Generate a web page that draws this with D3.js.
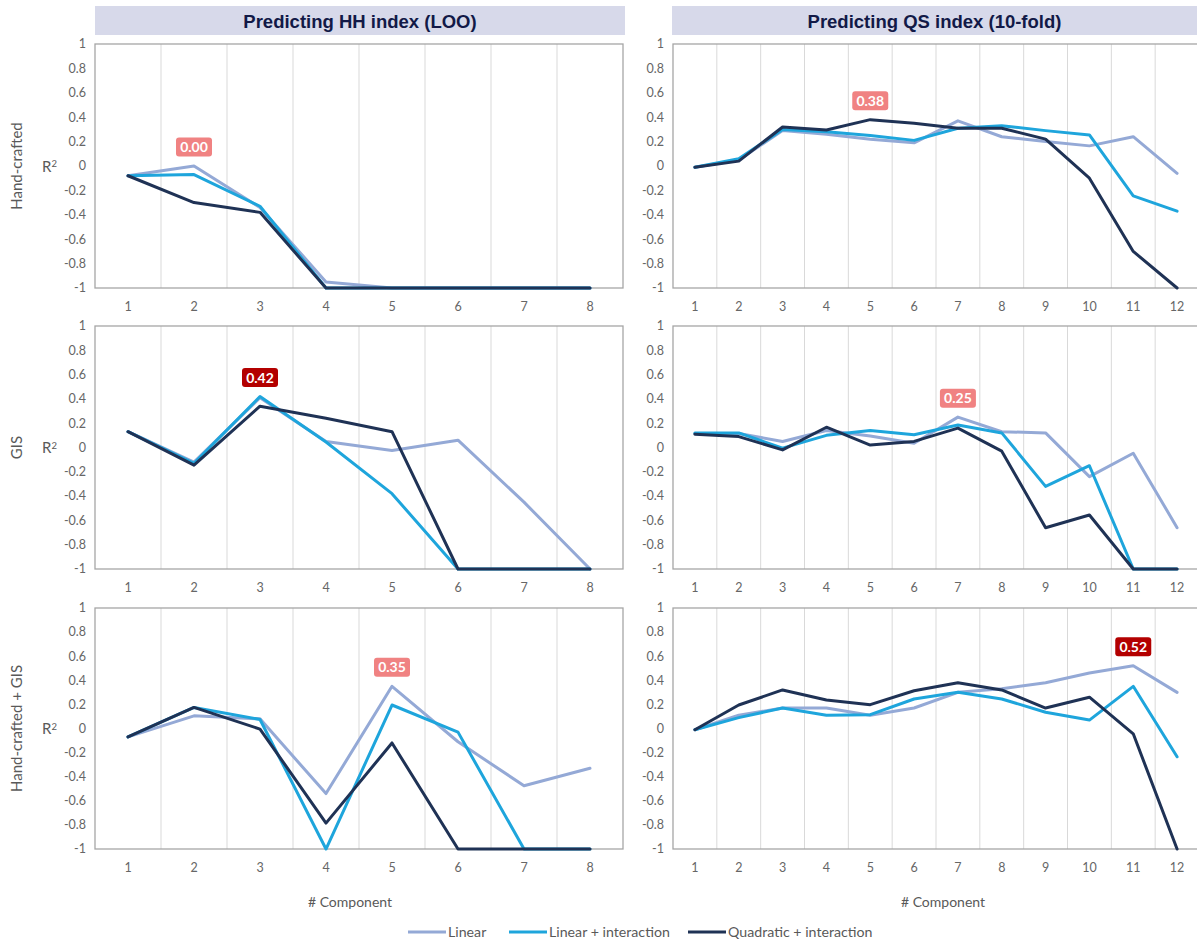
<!DOCTYPE html>
<html><head><meta charset="utf-8">
<script src="https://cdn.jsdelivr.net/npm/d3@7"></script>
<style>
body{margin:0;background:#fff;}
svg{display:block;}
</style></head>
<body>
<svg id="chart" width="1197" height="941"></svg>
<script>
// ---------- data ----------
const columnTitles = ["Predicting HH index (LOO)", "Predicting QS index (10-fold)"];
const rowTitles = ["Hand-crafted", "GIS", "Hand-crafted + GIS"];
const seriesNames = ["Linear", "Linear + interaction", "Quadratic + interaction"];
const categoriesHH = [1, 2, 3, 4, 5, 6, 7, 8];
const categoriesQS = [1, 2, 3, 4, 5, 6, 7, 8, 9, 10, 11, 12];
const yTicks = [1, 0.8, 0.6, 0.4, 0.2, 0, -0.2, -0.4, -0.6, -0.8, -1];

// HH, Hand-crafted
const hhHandLinear    = [-0.08, 0.00, -0.34, -0.95, -1, -1, -1, -1];
const hhHandLinInt    = [-0.08, -0.07, -0.33, -1, -1, -1, -1, -1];
const hhHandQuad      = [-0.08, -0.30, -0.38, -1, -1, -1, -1, -1];
// HH, GIS
const hhGisLinear     = [0.13, -0.12, 0.41, 0.05, -0.025, 0.06, -0.45, -1];
const hhGisLinInt     = [0.13, -0.13, 0.42, 0.045, -0.38, -1, -1, -1];
const hhGisQuad       = [0.13, -0.145, 0.34, 0.24, 0.13, -1, -1, -1];
// HH, Hand-crafted + GIS
const hhBothLinear    = [-0.07, 0.105, 0.08, -0.54, 0.35, -0.11, -0.475, -0.33];
const hhBothLinInt    = [-0.07, 0.175, 0.075, -1, 0.195, -0.03, -1, -1];
const hhBothQuad      = [-0.07, 0.175, -0.005, -0.785, -0.12, -1, -1, -1];
// QS, Hand-crafted
const qsHandLinear    = [-0.01, 0.05, 0.29, 0.26, 0.22, 0.19, 0.37, 0.24, 0.20, 0.165, 0.24, -0.06];
const qsHandLinInt    = [-0.01, 0.06, 0.30, 0.28, 0.25, 0.21, 0.31, 0.33, 0.29, 0.255, -0.245, -0.37];
const qsHandQuad      = [-0.01, 0.04, 0.32, 0.295, 0.38, 0.35, 0.31, 0.31, 0.22, -0.10, -0.70, -1];
// QS, GIS
const qsGisLinear     = [0.115, 0.115, 0.05, 0.14, 0.095, 0.035, 0.25, 0.13, 0.12, -0.24, -0.047, -0.66];
const qsGisLinInt     = [0.12, 0.12, -0.005, 0.10, 0.14, 0.105, 0.185, 0.12, -0.32, -0.15, -1, -1];
const qsGisQuad       = [0.11, 0.09, -0.02, 0.167, 0.02, 0.05, 0.16, -0.03, -0.66, -0.556, -1, -1];
// QS, Hand-crafted + GIS
const qsBothLinear    = [-0.01, 0.11, 0.17, 0.17, 0.11, 0.17, 0.30, 0.33, 0.38, 0.46, 0.52, 0.30];
const qsBothLinInt    = [-0.01, 0.09, 0.17, 0.11, 0.115, 0.245, 0.30, 0.245, 0.135, 0.07, 0.35, -0.235];
const qsBothQuad      = [-0.01, 0.195, 0.32, 0.236, 0.198, 0.313, 0.38, 0.32, 0.17, 0.26, -0.044, -1];

// best-value annotations: [column, row, category, label, highlight]
const annotations = [
  [0, 0, 2, "0.00", false],
  [1, 0, 5, "0.38", false],
  [0, 1, 3, "0.42", true],
  [1, 1, 7, "0.25", false],
  [0, 2, 5, "0.35", false],
  [1, 2, 11, "0.52", true]
];

// ---------- layout / style ----------
const colors = ["#94a9d6", "#1ea5dc", "#1f3255"];
const font = "Lato, 'Open Sans', sans-serif";
const gridColor = "#d9d9d9", borderColor = "#a6a6a6", textColor = "#595959";

const cols = [
  {x0: 95, x1: 623, cats: categoriesHH, hx0: 95, hx1: 625, titleX: 350},
  {x0: 673, x1: 1199, cats: categoriesQS, hx0: 672, hx1: 1197, titleX: 943}
];
const rows = [{top: 44, bottom: 288}, {top: 326, bottom: 569}, {top: 608, bottom: 849}];

const panelData = [
  [[hhHandLinear, hhHandLinInt, hhHandQuad], [hhGisLinear, hhGisLinInt, hhGisQuad], [hhBothLinear, hhBothLinInt, hhBothQuad]],
  [[qsHandLinear, qsHandLinInt, qsHandQuad], [qsGisLinear, qsGisLinInt, qsGisQuad], [qsBothLinear, qsBothLinInt, qsBothQuad]]
];

const svg = d3.select("#chart");
const fmt = v => (Math.abs(v) < 1e-9 ? "0" : String(+v.toFixed(1)));

// headers
cols.forEach((c, ci) => {
  svg.append("rect").attr("x", c.hx0).attr("y", 6).attr("width", c.hx1 - c.hx0).attr("height", 29)
    .attr("fill", "#d7d9ea");
  svg.append("text").attr("x", (c.hx0 + c.hx1) / 2).attr("y", 21).attr("dy", "0.36em")
    .attr("text-anchor", "middle").attr("font-family", "'Liberation Sans', Arial, sans-serif")
    .attr("font-weight", "bold").attr("font-size", 18.5).attr("fill", "#121947")
    .text(columnTitles[ci]);
});

const scales = [];
cols.forEach((c, ci) => {
  scales[ci] = [];
  rows.forEach((r, ri) => {
    const x = d3.scaleBand().domain(c.cats).range([c.x0, c.x1]).padding(0);
    const y = d3.scaleLinear().domain([-1, 1]).range([r.bottom, r.top]);
    scales[ci][ri] = {x, y};
    const g = svg.append("g");
    // vertical gridlines at category boundaries
    g.selectAll("line.grid").data(c.cats.slice(1)).join("line")
      .attr("x1", d => x(d)).attr("x2", d => x(d))
      .attr("y1", r.top).attr("y2", r.bottom)
      .attr("stroke", gridColor).attr("stroke-width", 1);
    // border
    g.append("rect").attr("x", c.x0).attr("y", r.top)
      .attr("width", c.x1 - c.x0).attr("height", r.bottom - r.top)
      .attr("fill", "none").attr("stroke", borderColor).attr("stroke-width", 1.3);
    // y tick labels
    g.selectAll("text.yt").data(yTicks).join("text")
      .attr("x", c.x0 - 9).attr("y", d => y(d)).attr("dy", "0.35em")
      .attr("text-anchor", "end").attr("font-family", font).attr("font-size", 12.5)
      .attr("fill", "#666").text(fmt);
    // x tick labels
    g.selectAll("text.xt").data(c.cats).join("text")
      .attr("x", d => x(d) + x.bandwidth() / 2).attr("y", r.bottom + 19).attr("dy", "0.35em")
      .attr("text-anchor", "middle").attr("font-family", font).attr("font-size", 12.5)
      .attr("fill", "#666").text(d => d);
    // lines
    const line = d3.line().x((d, i) => x(c.cats[i]) + x.bandwidth() / 2).y(d => y(d));
    panelData[ci][ri].forEach((vals, si) => {
      g.append("path").datum(vals).attr("d", line)
        .attr("fill", "none").attr("stroke", colors[si]).attr("stroke-width", 3)
        .attr("stroke-linejoin", "round").attr("stroke-linecap", "round");
    });
  });
});

// row labels
rows.forEach((r, ri) => {
  const cy = (r.top + r.bottom) / 2;
  svg.append("text").attr("transform", `translate(17,${cy}) rotate(-90)`)
    .attr("text-anchor", "middle").attr("dy", "0.35em")
    .attr("font-family", font).attr("font-size", 15).attr("fill", textColor)
    .text(rowTitles[ri]);
  const t = svg.append("text").attr("x", 42).attr("y", cy).attr("dy", "0.38em")
    .attr("font-family", font).attr("font-size", 15).attr("fill", textColor);
  t.append("tspan").text("R");
  t.append("tspan").attr("dy", "-0.45em").attr("font-size", 9.5).text("2");
});

// annotations
annotations.forEach(([ci, ri, cat, label, hi]) => {
  const {x, y} = scales[ci][ri];
  const vals = panelData[ci][ri];
  const idx = cols[ci].cats.indexOf(cat);
  const v = Math.max(vals[0][idx], vals[1][idx], vals[2][idx]);
  const cx = x(cat) + x.bandwidth() / 2, cy = y(v) - 19;
  svg.append("rect").attr("x", cx - 18).attr("y", cy - 9.5).attr("width", 36).attr("height", 19)
    .attr("rx", 3).attr("fill", hi ? "#b30000" : "#f08282");
  svg.append("text").attr("x", cx).attr("y", cy).attr("dy", "0.36em").attr("text-anchor", "middle")
    .attr("font-family", font).attr("font-weight", "bold").attr("font-size", 14)
    .attr("fill", "#fff").text(label);
});

// x axis titles
cols.forEach(c => {
  svg.append("text").attr("x", c.titleX).attr("y", 902).attr("dy", "0.35em")
    .attr("text-anchor", "middle").attr("font-family", font).attr("font-size", 14)
    .attr("fill", textColor).text("# Component");
});

// legend
const legendX = [408, 509, 688];
seriesNames.forEach((n, i) => {
  const lx = legendX[i];
  svg.append("line").attr("x1", lx).attr("x2", lx + 38).attr("y1", 932).attr("y2", 932)
    .attr("stroke", colors[i]).attr("stroke-width", 3);
  svg.append("text").attr("x", lx + 40).attr("y", 932).attr("dy", "0.35em")
    .attr("font-family", font).attr("font-size", 14.2).attr("fill", textColor).text(n);
});
</script>
</body></html>
